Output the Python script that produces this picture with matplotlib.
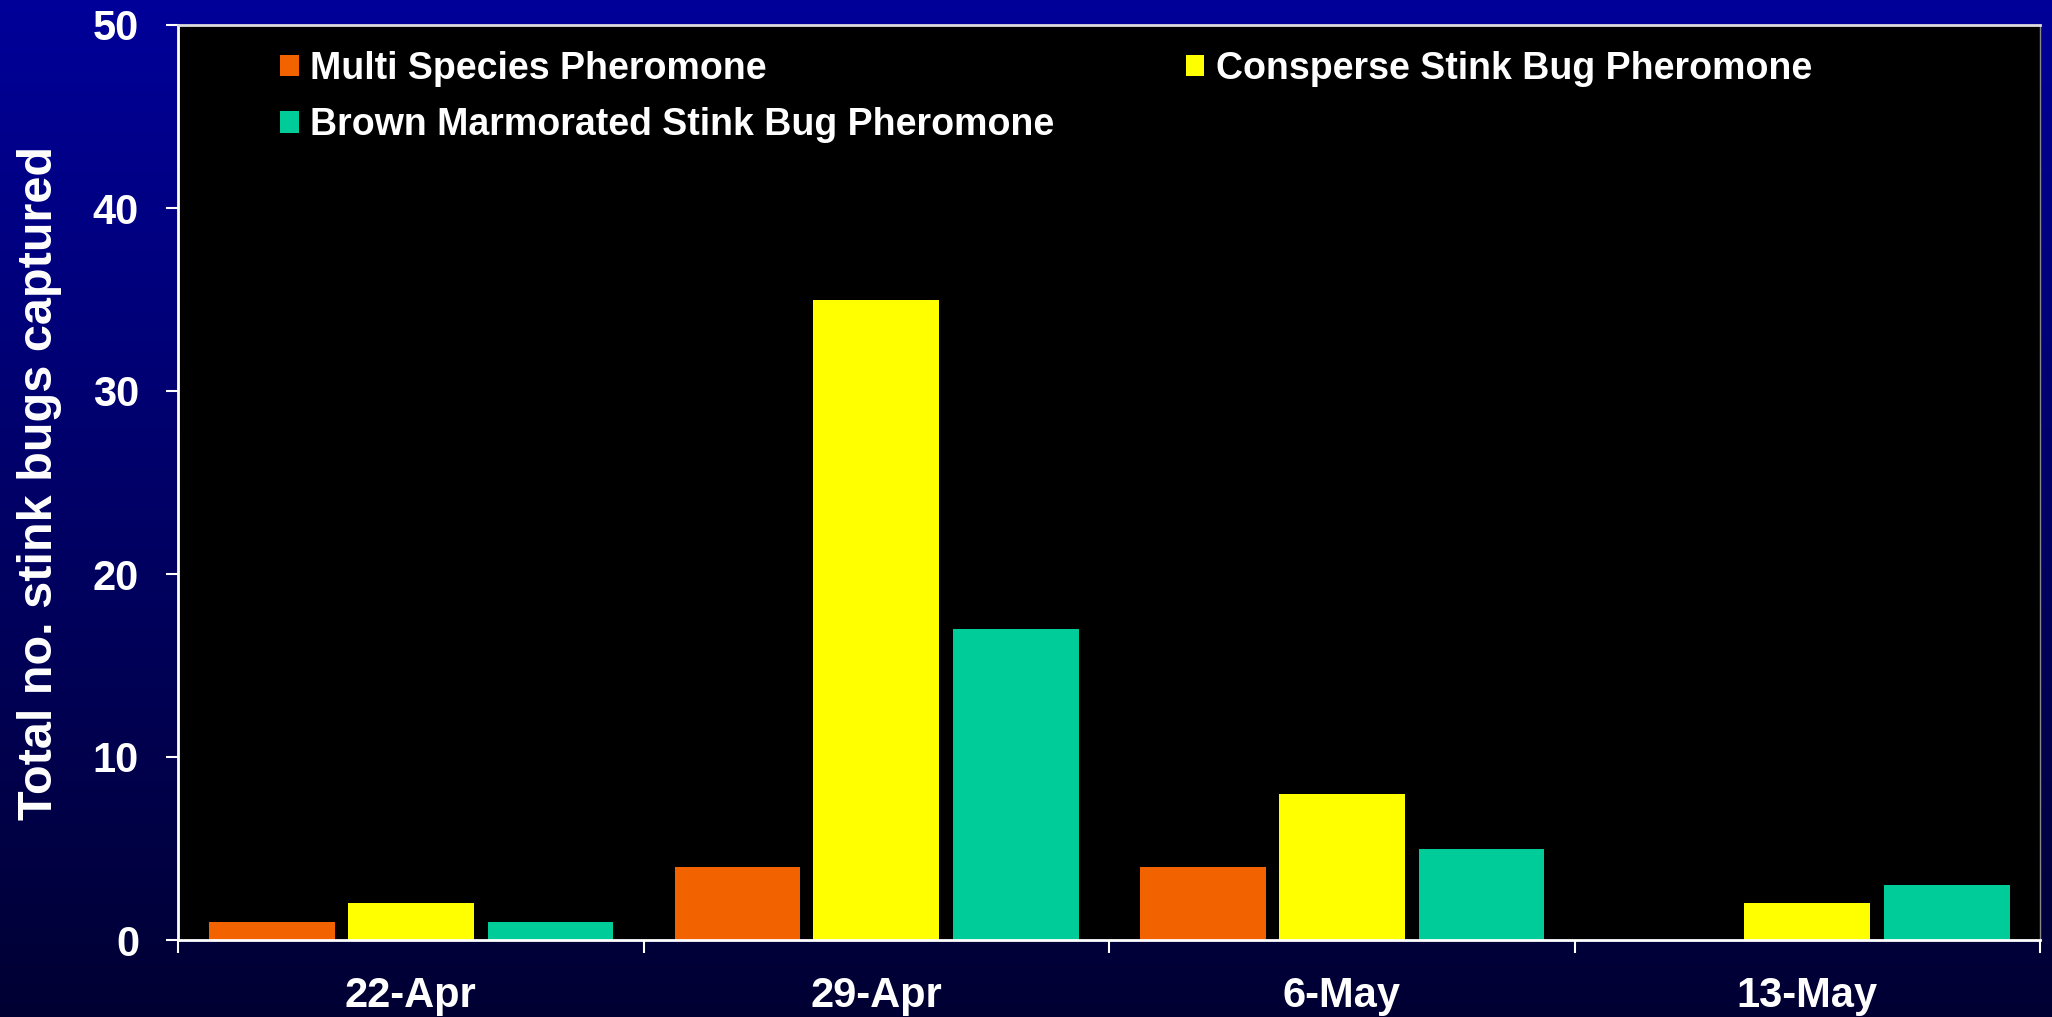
import numpy as np
import matplotlib.pyplot as plt

plt.rcParams['font.family'] = ['Liberation Sans', 'DejaVu Sans']
plt.rcParams['font.weight'] = 'bold'

dates = ['22-Apr', '29-Apr', '6-May', '13-May']
series = ['Multi Species Pheromone', 'Consperse Stink Bug Pheromone',
          'Brown Marmorated Stink Bug Pheromone']
multi = [1, 4, 4, 0]
consperse = [2, 35, 8, 2]
bmsb = [1, 17, 5, 3]
colors = ['#F26300', '#FFFF00', '#00CC99']

fig = plt.figure(figsize=(20.52, 10.17), dpi=100)

# blue gradient background
bg = fig.add_axes([0, 0, 1, 1], zorder=-1)
grad = np.linspace(0, 1, 256).reshape(-1, 1)
top = np.array([0, 0, 153]) / 255.0
bot = np.array([0, 0, 51]) / 255.0
img = top + (bot - top) * grad[:, :, None]
bg.imshow(img, aspect='auto', extent=[0, 1, 0, 1])
bg.set_axis_off()

ax = fig.add_axes([178 / 2052, 77 / 1017, 1862 / 2052, 915 / 1017])
ax.set_facecolor('black')

x = np.arange(len(dates))
w = 0.27
offs = [-0.298, 0.0, 0.3]
bars = []
for vals, off, c, lab in zip([multi, consperse, bmsb], offs, colors, series):
    b = ax.bar(x + off, vals, w, color=c, label=lab, zorder=2)
    bars.append(b)

ax.set_xlim(-0.5, 3.5)
ax.set_ylim(0, 50)
ax.set_yticks([0, 10, 20, 30, 40, 50])
ax.set_xticks(x)
ax.set_xticklabels(dates)
ax.set_xticks(np.arange(-0.5, 4, 1), minor=True)

ax.tick_params(axis='y', colors='white', labelsize=30, length=9, width=1.5,
               direction='out', pad=19)
ax.tick_params(axis='x', which='major', colors='white', labelsize=30,
               length=0, pad=26)
ax.tick_params(axis='x', which='minor', colors='white', length=9, width=1.5,
               direction='out')

ax.spines['left'].set_color('white')
ax.spines['left'].set_linewidth(2)
ax.spines['bottom'].set_color('white')
ax.spines['bottom'].set_linewidth(2)
ax.spines['top'].set_color('#dddddd')
ax.spines['top'].set_linewidth(2)
ax.spines['right'].set_color('#888888')
ax.spines['right'].set_linewidth(1)

ax.set_ylabel('Total no. stink bugs captured', color='white', fontsize=35,
              fontweight='bold', labelpad=22)

handles = [bars[0], bars[2], bars[1]]
labels = [series[0], series[2], series[1]]
leg = ax.legend(handles, labels, ncol=2, loc='upper left',
                bbox_to_anchor=(0.0548, 0.972), frameon=False,
                fontsize=27, handlelength=0.5, handleheight=0.5,
                handletextpad=0.3, labelspacing=0.55, columnspacing=3.5,
                borderpad=0, borderaxespad=0)
for t in leg.get_texts():
    t.set_color('white')

fig.savefig('out.png', dpi=100)
